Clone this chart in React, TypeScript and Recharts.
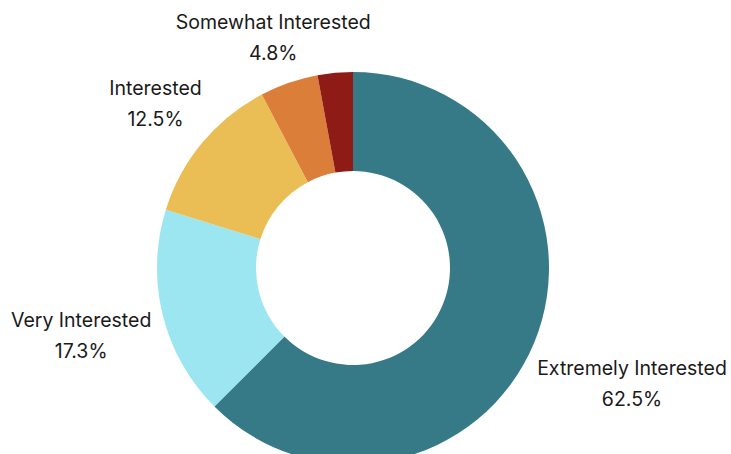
import React from "react";
import { PieChart, Pie, Cell } from "recharts";

// ================= Data =================
const categories = [
  "Extremely Interested",
  "Very Interested",
  "Interested",
  "Somewhat Interested",
  "Not Interested",
];
const shares = [62.5, 17.3, 12.5, 4.8, 2.9];
const showLabel = [true, true, true, true, false];

const COLORS = ["#377A87", "#9BE6F0", "#EBBE55", "#DB7E3A", "#8E1B16"];
// distance of each label's centre from the pie centre
const LABEL_RADIUS = [302, 280, 257, 244, 0];

const data = categories.map((name, i) => ({ name, value: shares[i] }));

const RADIAN = Math.PI / 180;

const renderLabel = (props: any) => {
  const { cx, cy, midAngle, index, name, value } = props;
  if (!showLabel[index]) return null;
  const r = LABEL_RADIUS[index];
  const x = cx + r * Math.cos(-midAngle * RADIAN);
  const y = cy + r * Math.sin(-midAngle * RADIAN);
  return (
    <text
      x={x}
      y={y}
      textAnchor="middle"
      fill="#1a1a1a"
      fontSize={19.5}
      fontFamily="Inter, 'Noto Sans', sans-serif"
    >
      <tspan x={x} y={y - 15.5} dominantBaseline="central">
        {name}
      </tspan>
      <tspan x={x} y={y + 15.5} dominantBaseline="central">
        {value.toFixed(1)}%
      </tspan>
    </text>
  );
};

const App = () => {
  return (
    <div style={{ position: "absolute", left: 0, top: 0, width: 731, height: 454, background: "#fff" }}>
      <PieChart width={731} height={454} margin={{ top: 0, right: 0, bottom: 0, left: 0 }}>
        <Pie
          data={data}
          dataKey="value"
          nameKey="name"
          cx={353}
          cy={268}
          innerRadius={97}
          outerRadius={196}
          startAngle={90}
          endAngle={-270}
          stroke="none"
          labelLine={false}
          label={renderLabel}
          isAnimationActive={false}
        >
          {data.map((entry, index) => (
            <Cell key={`cell-${index}`} fill={COLORS[index]} />
          ))}
        </Pie>
      </PieChart>
    </div>
  );
};

export default App;
